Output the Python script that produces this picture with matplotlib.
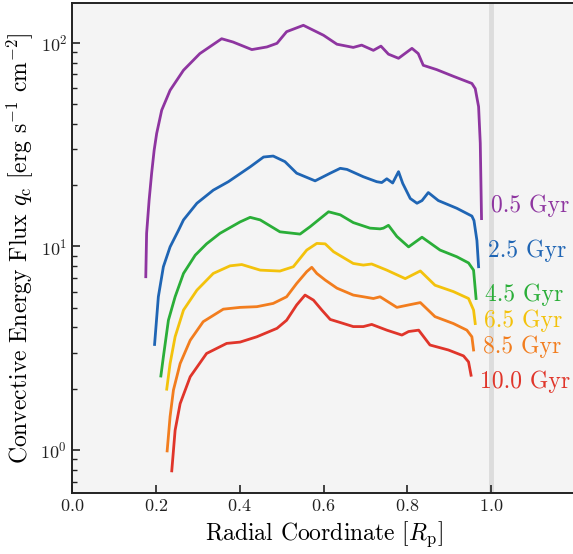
import numpy as np
import matplotlib
matplotlib.use("Agg")
import matplotlib.pyplot as plt

plt.rcParams['font.family'] = 'serif'
plt.rcParams['font.serif'] = ['cmr10']
plt.rcParams['mathtext.fontset'] = 'cm'
plt.rcParams['axes.formatter.use_mathtext'] = True
plt.rcParams['axes.unicode_minus'] = False

# radial coordinate / flux, one pair of arrays per age
x_05 = [0.176, 0.178, 0.184, 0.190, 0.196, 0.202, 0.214, 0.234, 0.266, 0.305, 0.357, 0.384,
        0.429, 0.465, 0.489, 0.512, 0.552, 0.600, 0.632, 0.671, 0.691, 0.719, 0.737, 0.755,
        0.779, 0.811, 0.826, 0.838, 0.870, 0.910, 0.954, 0.962, 0.970, 0.974, 0.977]
q_05 = [7.1, 11.6, 16.9, 22.9, 29.7, 35.9, 46.7, 58.5, 73.4, 88.6, 104.8, 101,
        92.7, 95.5, 99.5, 113.5, 122, 109, 98.5, 95, 97.5, 91.9, 96.4, 88,
        84, 94, 88.6, 77.6, 73.9, 68.5, 63.2, 59.6, 48.6, 32.2, 13.7]

x_25 = [0.197, 0.206, 0.218, 0.234, 0.254, 0.266, 0.298, 0.337, 0.373, 0.425, 0.457, 0.480,
        0.508, 0.536, 0.580, 0.616, 0.640, 0.656, 0.695, 0.727, 0.739, 0.751, 0.765, 0.779,
        0.789, 0.807, 0.823, 0.835, 0.850, 0.874, 0.918, 0.954, 0.959, 0.966, 0.970]
q_25 = [3.3, 5.66, 7.95, 9.95, 12.0, 13.5, 16.3, 18.9, 20.8, 24.6, 27.5, 27.8,
        26.1, 22.9, 21.0, 22.9, 24.2, 23.9, 22.0, 20.8, 20.6, 21.5, 20.5, 23.3,
        20.4, 17.2, 16.3, 16.8, 18.4, 16.8, 15.4, 14.1, 13.4, 10.7, 7.95]

x_45 = [0.212, 0.218, 0.230, 0.246, 0.266, 0.294, 0.321, 0.353, 0.401, 0.425, 0.449, 0.496,
        0.544, 0.568, 0.612, 0.640, 0.671, 0.711, 0.735, 0.743, 0.755, 0.775, 0.803, 0.835,
        0.878, 0.918, 0.946, 0.958, 0.964]
q_45 = [2.31, 2.87, 4.34, 5.66, 7.37, 9.06, 10.3, 11.6, 13.2, 13.9, 13.5, 11.8,
        11.5, 12.5, 14.8, 14.3, 13.1, 12.3, 12.2, 12.3, 12.7, 11.2, 9.95, 11.1,
        9.6, 8.9, 8.3, 7.65, 5.55]

x_65 = [0.226, 0.234, 0.246, 0.266, 0.298, 0.337, 0.377, 0.405, 0.449, 0.496, 0.528, 0.560,
        0.584, 0.604, 0.624, 0.671, 0.695, 0.715, 0.751, 0.795, 0.831, 0.866, 0.910, 0.946,
        0.958, 0.962]
q_65 = [1.99, 2.66, 3.6, 4.87, 6.1, 7.37, 8.03, 8.15, 7.65, 7.57, 7.95, 9.6,
        10.35, 10.3, 9.42, 8.25, 8.1, 8.2, 7.65, 6.95, 7.58, 6.45, 6.0, 5.55,
        4.87, 4.18]

x_85 = [0.227, 0.234, 0.242, 0.258, 0.282, 0.313, 0.361, 0.401, 0.441, 0.480, 0.512, 0.536,
        0.560, 0.572, 0.584, 0.604, 0.632, 0.671, 0.695, 0.719, 0.735, 0.775, 0.803, 0.831,
        0.866, 0.910, 0.942, 0.954, 0.958]
q_85 = [0.99, 1.46, 1.97, 2.66, 3.46, 4.27, 4.92, 5.02, 5.06, 5.25, 5.66, 6.58,
        7.52, 7.9, 7.37, 6.84, 6.24, 5.77, 5.66, 5.55, 5.66, 5.02, 5.16, 5.3,
        4.52, 4.18, 3.88, 3.6, 3.1]

x_100 = [0.238, 0.246, 0.258, 0.282, 0.321, 0.369, 0.401, 0.441, 0.489, 0.512, 0.536, 0.556,
         0.576, 0.596, 0.616, 0.640, 0.671, 0.695, 0.715, 0.751, 0.787, 0.803, 0.827, 0.854,
         0.898, 0.934, 0.946, 0.952]
q_100 = [0.79, 1.25, 1.69, 2.29, 2.98, 3.34, 3.39, 3.6, 3.96, 4.34, 5.16, 5.77,
         5.45, 4.87, 4.38, 4.23, 4.04, 4.04, 4.14, 3.88, 3.67, 3.82, 3.88, 3.28,
         3.1, 2.9, 2.71, 2.33]

ages = ['0.5 Gyr', '2.5 Gyr', '4.5 Gyr', '6.5 Gyr', '8.5 Gyr', '10.0 Gyr']
label_q = [14.8, 8.89, 5.41, 4.0, 2.98, 2.01]
colors = ['#8e35a0', '#1f65b4', '#2aae38', '#f3c20c', '#f27d1e', '#e0352a']

xs = [x_05, x_25, x_45, x_65, x_85, x_100]
qs = [q_05, q_25, q_45, q_65, q_85, q_100]

fig = plt.figure(figsize=(5.73, 5.54), dpi=100)
ax = fig.add_axes([72 / 573, 61 / 554, 503 / 573, 490 / 554])
ax.set_facecolor('#f4f4f4')

ax.axvline(1.0, color='#dcdcdc', lw=3.5, zorder=1)

for x, q, c, lab, ly in zip(xs, qs, colors, ages, label_q):
    ax.plot(x, q, color=c, lw=2.0, zorder=3)
    ax.text(x[-1] + 0.022, ly, lab, color=c, fontsize=17, ha='left', va='baseline')

ax.set_yscale('log')
ax.set_xlim(0, 1.2)
ax.set_ylim(0.615, 157)
ax.set_xticks([0.0, 0.2, 0.4, 0.6, 0.8, 1.0])
ax.set_xlabel(r'Radial Coordinate [$R_\mathrm{p}$]', fontsize=17)
ax.set_ylabel(r'Convective Energy Flux $q_\mathrm{c}$ [erg s$^{-1}$ cm$^{-2}$]', fontsize=17)
ax.tick_params(which='both', direction='in', labelsize=13, colors='#222222')
ax.tick_params(which='major', length=6, width=1.2)
ax.tick_params(which='minor', length=3.5, width=1.0)
for s in ax.spines.values():
    s.set_color('#222222')
    s.set_linewidth(1.4)

fig.savefig('out.png', dpi=100)
